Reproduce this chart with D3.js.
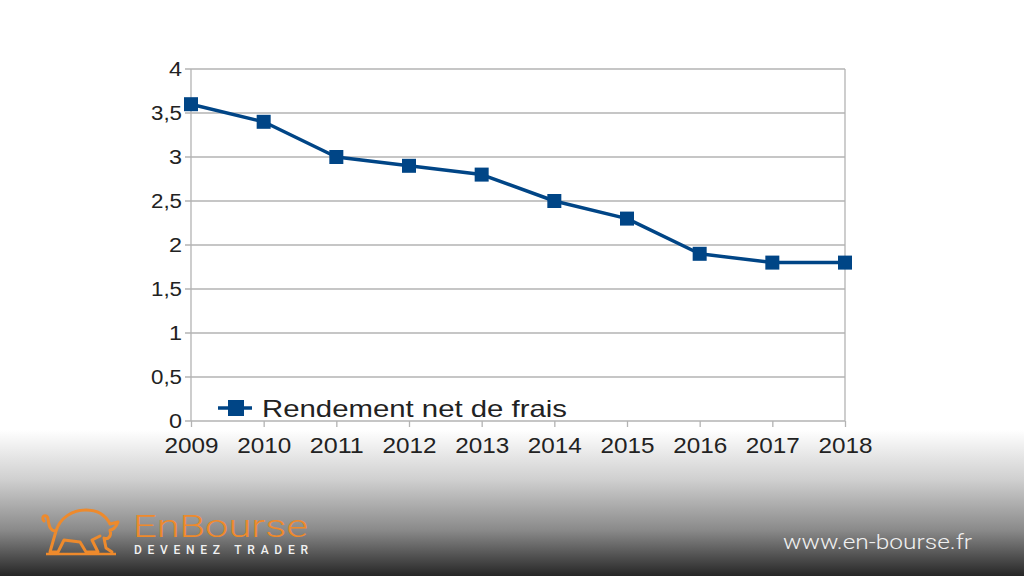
<!DOCTYPE html>
<html>
<head>
<meta charset="utf-8">
<script src="https://cdn.jsdelivr.net/npm/d3@7"></script>
<style>
  html, body { margin: 0; padding: 0; background: #fff; }
  svg { display: block; }
</style>
</head>
<body>
<svg id="chart" width="1024" height="576"></svg>
<script>
// data
const years = [2009, 2010, 2011, 2012, 2013, 2014, 2015, 2016, 2017, 2018];
const rendement = [3.6, 3.4, 3.0, 2.9, 2.8, 2.5, 2.3, 1.9, 1.8, 1.8];
const yTicks = [0, 0.5, 1, 1.5, 2, 2.5, 3, 3.5, 4];
const seriesName = "Rendement net de frais";

const COLORS = {
    line: '#004586',
    grid: '#b3b3b3',
    text: '#222222',
    orange: '#ee8a2c'
};

const svg = d3.select('#chart');

// background: white then gradient to dark at the bottom
const defs = svg.append('defs');
const grad = defs.append('linearGradient')
    .attr('id', 'bg')
    .attr('gradientUnits', 'userSpaceOnUse')
    .attr('x1', 0).attr('y1', 0).attr('x2', 0).attr('y2', 576);
[[0, '#ffffff'], [430, '#ffffff'], [480, '#cfcfcf'], [530, '#8a8a8a'], [576, '#262626']]
    .forEach(([y, c]) => grad.append('stop').attr('offset', y / 576).attr('stop-color', c));
svg.append('rect').attr('width', 1024).attr('height', 576).attr('fill', 'url(#bg)');

const x = d3.scaleLinear().domain([2009, 2018]).range([191, 845]);
const y = d3.scaleLinear().domain([0, 4]).range([421, 69]);

// grid lines
svg.append('g')
    .selectAll('line')
    .data(yTicks)
    .join('line')
    .attr('x1', 185).attr('x2', 845)
    .attr('y1', d => y(d)).attr('y2', d => y(d))
    .attr('stroke', COLORS.grid).attr('stroke-width', 1.3);

// frame verticals
svg.append('line').attr('x1', x(2009)).attr('x2', x(2009)).attr('y1', y(4)).attr('y2', y(0))
    .attr('stroke', COLORS.grid).attr('stroke-width', 1.3);
svg.append('line').attr('x1', x(2018)).attr('x2', x(2018)).attr('y1', y(4)).attr('y2', y(0))
    .attr('stroke', COLORS.grid).attr('stroke-width', 1.3);

// x axis
const xAxis = svg.append('g')
    .attr('transform', 'translate(0,' + y(0) + ')')
    .call(d3.axisBottom(x).tickValues(years).tickFormat(d3.format('d')).tickSize(6).tickPadding(10));
xAxis.select('.domain').remove();
xAxis.selectAll('.tick line').attr('stroke', COLORS.grid).attr('stroke-width', 1.3);
xAxis.selectAll('.tick text')
    .attr('fill', COLORS.text)
    .attr('font-family', 'Liberation Sans, Arial, sans-serif')
    .attr('font-size', 22)
    .attr('textLength', 54)
    .attr('lengthAdjust', 'spacingAndGlyphs');

// y axis labels
const yAxis = svg.append('g')
    .attr('transform', 'translate(' + x(2009) + ',0)')
    .call(d3.axisLeft(y).tickValues(yTicks).tickFormat(d => String(d).replace('.', ',')).tickSize(0).tickPadding(9));
yAxis.select('.domain').remove();
yAxis.selectAll('.tick text')
    .attr('fill', COLORS.text)
    .attr('font-family', 'Liberation Sans, Arial, sans-serif')
    .attr('font-size', 20)
    .each(function (d) {
        const s = String(d).replace('.', ',');
        d3.select(this).attr('textLength', s.length === 1 ? 13 : 31).attr('lengthAdjust', 'spacingAndGlyphs');
    });

// series line
const pts = years.map((yr, i) => [yr, rendement[i]]);
svg.append('path')
    .datum(pts)
    .attr('fill', 'none')
    .attr('stroke', COLORS.line)
    .attr('stroke-width', 3.5)
    .attr('stroke-linejoin', 'round')
    .attr('d', d3.line().x(d => x(d[0])).y(d => y(d[1])));

svg.append('g')
    .selectAll('rect')
    .data(pts)
    .join('rect')
    .attr('x', d => x(d[0]) - 7)
    .attr('y', d => y(d[1]) - 7)
    .attr('width', 14).attr('height', 14)
    .attr('fill', COLORS.line);

// legend
const legend = svg.append('g').attr('transform', 'translate(218,408)');
legend.append('line').attr('x1', 0).attr('x2', 34).attr('y1', 0).attr('y2', 0)
    .attr('stroke', COLORS.line).attr('stroke-width', 3.5);
legend.append('rect').attr('x', 10).attr('y', -8).attr('width', 16).attr('height', 16).attr('fill', COLORS.line);
legend.append('text')
    .attr('x', 44).attr('y', 9)
    .attr('font-family', 'Liberation Sans, Arial, sans-serif')
    .attr('font-size', 24)
    .attr('fill', COLORS.text)
    .attr('textLength', 305)
    .attr('lengthAdjust', 'spacingAndGlyphs')
    .text(seriesName);

// footer branding
const logo = svg.append('g');
logo.append('path')
    .attr('d', 'M44,521 C40,516 47,513 48,519 C49,526 50,531 56,531 ' +
        'C60,518 72,510 86,510 C98,510 106,516 110,524 L118,522 C116,528 112,530 110,530 ' +
        'C112,536 108,540 104,538 L106,548 L112,552 ' +
        'M56,531 C54,538 52,545 50,552 L58,552 L64,540 L80,542 L86,552 L98,552 L92,540 L100,536')
    .attr('fill', 'none')
    .attr('stroke', COLORS.orange)
    .attr('stroke-width', 3)
    .attr('stroke-linecap', 'round')
    .attr('stroke-linejoin', 'round');
logo.append('line').attr('x1', 46).attr('x2', 116).attr('y1', 554).attr('y2', 554)
    .attr('stroke', COLORS.orange).attr('stroke-width', 2.5);

svg.append('text')
    .attr('x', 133).attr('y', 537)
    .attr('font-family', 'Roboto, sans-serif')
    .attr('font-weight', 300)
    .attr('font-size', 31)
    .attr('fill', COLORS.orange)
    .attr('textLength', 175)
    .attr('lengthAdjust', 'spacingAndGlyphs')
    .text('EnBourse');

svg.append('text')
    .attr('x', 134).attr('y', 554)
    .attr('font-family', 'Roboto, sans-serif')
    .attr('font-weight', 500)
    .attr('font-size', 12)
    .attr('fill', '#f2f2f2')
    .attr('textLength', 174)
    .attr('lengthAdjust', 'spacing')
    .text('DEVENEZ TRADER');

svg.append('text')
    .attr('x', 783).attr('y', 549)
    .attr('font-family', 'Roboto, sans-serif')
    .attr('font-weight', 300)
    .attr('font-size', 21)
    .attr('fill', '#f0f0f0')
    .attr('textLength', 189)
    .attr('lengthAdjust', 'spacingAndGlyphs')
    .text('www.en-bourse.fr');
</script>
</body>
</html>
